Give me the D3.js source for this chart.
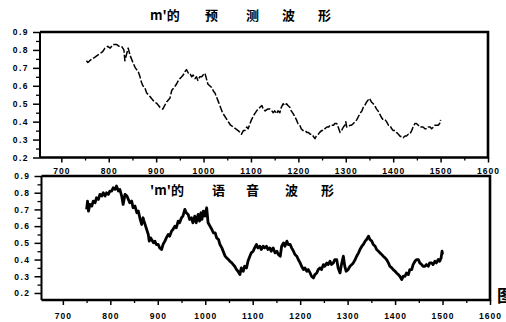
<!DOCTYPE html>
<html><head><meta charset="utf-8">
<script src="https://cdn.jsdelivr.net/npm/d3@7"></script>
<style>
html,body{margin:0;padding:0;background:#fff;}
svg{display:block;}
text{font-family:"Liberation Sans",Arial,sans-serif;font-weight:bold;fill:#000;}
.cjk{font-family:"Noto Sans CJK SC",sans-serif;font-weight:bold;}
</style></head>
<body>
<script>
// ---- data ----
const xTicks = [700,800,900,1000,1100,1200,1300,1400,1500,1600];
const yTicks = [0.2,0.3,0.4,0.5,0.6,0.7,0.8,0.9];
const titleTop = ["m'的","预","测","波","形"];
const titleBottom = ["'m'的","语","音","波","形"];

// predicted waveform (top)
const predX = [753,756,760,765,771,776,782,787,792,798,803,809,813,817,822,827,832,834,838,841,845,848,851,856,862,866,869,872,876,880,884,887,890,893,897,902,908,914,922,929,933,938,943,947,950,954,957,961,964,968,971,975,978,982,985,988,992,996,999,1003,1006,1009,1013,1017,1021,1024,1027,1030,1040,1052,1057,1063,1068,1073,1077,1080,1084,1087,1091,1094,1098,1101,1105,1108,1112,1115,1119,1123,1126,1130,1135,1140,1144,1147,1150,1154,1157,1161,1164,1168,1171,1175,1178,1182,1185,1189,1192,1196,1199,1203,1206,1210,1214,1218,1221,1225,1228,1231,1235,1238,1242,1245,1249,1253,1256,1260,1264,1267,1270,1274,1277,1281,1284,1288,1291,1295,1298,1300,1302,1305,1309,1312,1316,1320,1323,1327,1330,1334,1337,1340,1344,1347,1350,1354,1358,1361,1365,1368,1372,1376,1379,1383,1386,1390,1393,1397,1400,1404,1407,1411,1414,1418,1421,1425,1428,1432,1435,1439,1442,1446,1449,1453,1456,1460,1463,1467,1471,1474,1478,1481,1485,1488,1492,1495,1498,1500];
const predY = [0.74,0.73,0.74,0.75,0.76,0.77,0.78,0.79,0.81,0.82,0.81,0.83,0.83,0.83,0.82,0.82,0.80,0.74,0.78,0.81,0.77,0.75,0.73,0.70,0.68,0.65,0.62,0.60,0.59,0.56,0.55,0.54,0.53,0.52,0.51,0.50,0.48,0.47,0.51,0.53,0.575,0.59,0.61,0.63,0.64,0.65,0.66,0.68,0.69,0.67,0.67,0.65,0.66,0.64,0.65,0.63,0.65,0.65,0.66,0.67,0.64,0.61,0.60,0.59,0.57,0.56,0.54,0.52,0.45,0.40,0.38,0.37,0.36,0.35,0.34,0.33,0.35,0.35,0.37,0.36,0.39,0.41,0.43,0.445,0.46,0.47,0.48,0.49,0.47,0.46,0.47,0.47,0.46,0.45,0.46,0.445,0.46,0.45,0.48,0.50,0.49,0.50,0.49,0.48,0.46,0.445,0.43,0.41,0.39,0.38,0.36,0.35,0.35,0.34,0.34,0.33,0.33,0.32,0.305,0.32,0.33,0.34,0.35,0.35,0.36,0.37,0.37,0.38,0.38,0.38,0.39,0.39,0.37,0.34,0.35,0.37,0.38,0.40,0.37,0.37,0.38,0.38,0.39,0.40,0.41,0.43,0.445,0.46,0.48,0.49,0.51,0.52,0.53,0.51,0.50,0.49,0.47,0.46,0.44,0.42,0.41,0.41,0.40,0.38,0.38,0.36,0.35,0.35,0.34,0.33,0.32,0.315,0.31,0.32,0.32,0.33,0.33,0.35,0.37,0.39,0.39,0.38,0.37,0.37,0.37,0.36,0.36,0.37,0.37,0.36,0.37,0.38,0.38,0.38,0.39,0.41];

// speech waveform (bottom)
const speechX = [750,752,754,757,761,764,768,771,775,778,782,785,789,792,796,799,803,806,810,813,817,820,824,827,831,835,838,841,845,848,852,856,859,863,866,869,871,880,882,885,887,891,894,897,901,904,908,911,915,918,922,925,929,932,936,939,943,946,950,953,957,960,964,967,971,974,978,981,985,988,991,993,996,999,1003,1006,1010,1014,1017,1021,1024,1028,1031,1035,1042,1045,1049,1052,1056,1059,1062,1066,1069,1073,1076,1080,1083,1087,1090,1094,1097,1101,1104,1108,1111,1115,1118,1122,1125,1129,1132,1136,1139,1143,1147,1151,1154,1158,1161,1165,1168,1172,1175,1179,1182,1186,1189,1193,1196,1200,1203,1207,1210,1214,1217,1221,1224,1228,1231,1235,1238,1242,1245,1249,1252,1256,1259,1263,1266,1270,1273,1277,1280,1284,1287,1291,1294,1297,1301,1305,1309,1312,1316,1319,1323,1326,1330,1333,1337,1340,1344,1347,1351,1354,1358,1361,1365,1368,1372,1375,1379,1382,1386,1389,1393,1396,1400,1403,1407,1410,1414,1417,1421,1424,1428,1431,1435,1438,1442,1445,1449,1452,1456,1459,1463,1466,1470,1473,1477,1480,1484,1487,1491,1494,1497,1499,1500];
const speechY = [0.70,0.75,0.69,0.73,0.72,0.75,0.74,0.77,0.76,0.79,0.78,0.80,0.78,0.80,0.79,0.81,0.81,0.83,0.82,0.84,0.81,0.82,0.78,0.73,0.79,0.78,0.76,0.74,0.75,0.71,0.72,0.68,0.69,0.64,0.61,0.65,0.63,0.55,0.51,0.53,0.52,0.50,0.51,0.49,0.49,0.47,0.46,0.49,0.51,0.53,0.55,0.54,0.57,0.58,0.60,0.59,0.63,0.62,0.65,0.66,0.70,0.68,0.67,0.64,0.65,0.62,0.66,0.62,0.67,0.63,0.68,0.64,0.69,0.66,0.71,0.62,0.60,0.58,0.56,0.56,0.53,0.52,0.49,0.47,0.42,0.41,0.40,0.39,0.38,0.37,0.36,0.34,0.33,0.31,0.35,0.33,0.36,0.35,0.39,0.42,0.44,0.45,0.47,0.49,0.47,0.48,0.46,0.48,0.47,0.48,0.46,0.47,0.45,0.47,0.44,0.45,0.43,0.42,0.48,0.50,0.48,0.51,0.49,0.49,0.47,0.45,0.43,0.42,0.40,0.38,0.36,0.34,0.35,0.33,0.34,0.32,0.30,0.29,0.31,0.32,0.34,0.35,0.34,0.37,0.36,0.38,0.37,0.39,0.37,0.38,0.40,0.40,0.35,0.32,0.37,0.42,0.36,0.33,0.34,0.36,0.37,0.38,0.40,0.42,0.44,0.46,0.48,0.49,0.51,0.52,0.54,0.52,0.51,0.49,0.48,0.46,0.45,0.44,0.43,0.42,0.41,0.40,0.38,0.36,0.35,0.34,0.33,0.32,0.31,0.30,0.28,0.30,0.30,0.32,0.31,0.34,0.34,0.37,0.39,0.40,0.40,0.38,0.37,0.36,0.36,0.37,0.36,0.38,0.38,0.37,0.39,0.38,0.40,0.39,0.41,0.45,0.43];

// ---- drawing ----
const W = 506, H = 322;
const svg = d3.select("body").append("svg").attr("width", W).attr("height", H);

const panels = [
  {xs:predX, ys:predY, x0:40, x1:488, yTop:32, yBot:157.5, yMin:0.2, sw:1.5, title:titleTop, tx:[150,205,246,282,318], ty:20, tickLbl:174},
  {xs:speechX, ys:speechY, x0:41.5, x1:490, yTop:176, yBot:300, yMin:0.158, sw:2.8, title:titleBottom, tx:[150,212,246,285,321], ty:195, tickLbl:319}
];

panels.forEach((p, i) => {
  const x = d3.scaleLinear().domain([655,1600]).range([p.x0, p.x1]);
  const y = d3.scaleLinear().domain([p.yMin,0.9]).range([p.yBot, p.yTop]);
  const g = svg.append("g");

  // x axis major + minor ticks
  const xAxis = d3.axisBottom(x).tickValues(xTicks).tickSize(5).tickFormat(d3.format("d"));
  const gx = g.append("g").attr("transform", `translate(0,${p.yBot})`).call(xAxis);
  gx.select(".domain").remove();
  gx.selectAll("line").attr("stroke","#000").attr("stroke-width",1.5);
  gx.selectAll("text").attr("y", p.tickLbl - p.yBot).attr("dy",0).attr("font-size","8.5px").style("letter-spacing","1px");
  const gxm = g.append("g").attr("transform", `translate(0,${p.yBot})`)
    .call(d3.axisBottom(x).tickValues(d3.range(650,1601,50).filter(v=>v%100!==0 && v>655)).tickSize(3).tickFormat(""));
  gxm.select(".domain").remove();
  gxm.selectAll("line").attr("stroke","#000").attr("stroke-width",1.3);

  // y axis
  const gy = g.append("g").attr("transform", `translate(${p.x0},0)`)
    .call(d3.axisLeft(y).tickValues(yTicks).tickSize(7).tickPadding(4).tickFormat(d3.format(".1f")));
  gy.select(".domain").remove();
  gy.selectAll("line").attr("stroke","#000").attr("stroke-width",1.5);
  gy.selectAll("text").attr("font-size","8.5px").style("letter-spacing","1.5px").attr("x",-11);
  const gym = g.append("g").attr("transform", `translate(${p.x0},0)`)
    .call(d3.axisLeft(y).tickValues(d3.range(0.25,0.9,0.1)).tickSize(4).tickFormat(""));
  gym.select(".domain").remove();
  gym.selectAll("line").attr("stroke","#000").attr("stroke-width",1.3);

  // frame
  g.append("line").attr("x1",p.x0).attr("x2",p.x0).attr("y1",p.yTop).attr("y2",p.yBot)
    .attr("stroke","#000").attr("stroke-width",2);
  g.append("path").attr("d",`M${p.x0},${p.yTop}H${p.x1}V${p.yBot}H${p.x0}`)
    .attr("fill","none").attr("stroke","#000").attr("stroke-width",2.6);

  // curve
  const line = d3.line().x(d=>x(d[0])).y(d=>y(d[1]));
  g.append("path").datum(p.xs.map((v,k)=>[v,p.ys[k]]))
    .attr("d", line).attr("fill","none").attr("stroke","#000")
    .attr("stroke-width", p.sw).attr("stroke-linejoin","round")
    .attr("stroke-dasharray", i===0 ? "7,2" : null);

  // title
  const t = g.append("text").attr("class","cjk").attr("y",p.ty).attr("font-size","13px");
  p.title.forEach((s,k)=> t.append("tspan").attr("x", p.tx[k]).text(s));
});

svg.append("text").attr("class","cjk").attr("x",497).attr("y",302).attr("font-size","17px").text("图");
</script>
</body></html>
